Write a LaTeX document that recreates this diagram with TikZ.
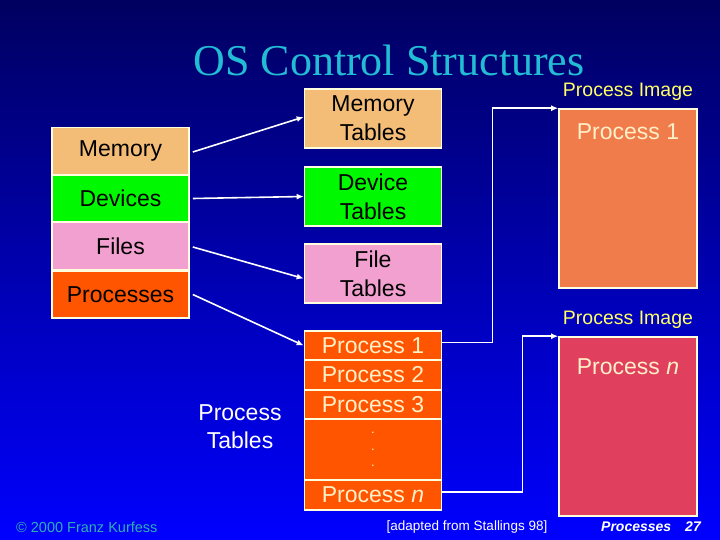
\documentclass[tikz,border=0pt]{standalone}
\usepackage{fontspec}
\setmainfont{Liberation Sans}
\newfontfamily\titlefont{Liberation Serif}
\usetikzlibrary{arrows.meta}
\definecolor{bgtop}{HTML}{000060}
\definecolor{bgbot}{HTML}{0000FF}
\definecolor{boxline}{HTML}{FFFFE0}
\definecolor{cmem}{HTML}{F3BD78}
\definecolor{cdev}{HTML}{00F800}
\definecolor{cfile}{HTML}{F2A0D0}
\definecolor{cproc}{HTML}{FF5500}
\definecolor{cimgone}{HTML}{F07C4C}
\definecolor{cimgn}{HTML}{E0405E}
\definecolor{ccream}{HTML}{FFF0C8}
\definecolor{cyellow}{HTML}{FFFF66}
\definecolor{ctitle}{HTML}{22BCD4}
\definecolor{ccopy}{HTML}{2FB0B0}
\tikzset{
  box/.style={draw=boxline, line width=1.6pt, minimum width=137pt, align=center, inner sep=0pt,
    font=\fontsize{23}{29}\selectfont},
  prow/.style={box, fill=cproc, text=ccream},
  img/.style={draw=boxline, line width=1.6pt, minimum width=138pt, minimum height=179pt, inner sep=0pt},
  conn/.style={white, line width=1.6pt, -{Latex[length=7pt,width=6pt]}},
  lbl/.style={font=\fontsize{23}{28}\selectfont, align=center, inner sep=0pt}
}
\begin{document}
\begin{tikzpicture}[x=1pt,y=-1pt]
\shade[top color=bgtop, bottom color=bgbot] (0,0) rectangle (720,540);
\useasboundingbox (0,0) rectangle (720,540);

\node[font=\titlefont\fontsize{44}{48}\selectfont, text=ctitle] (title) at (389,60) {OS Control Structures};

% left stack
\node[box, fill=cmem, minimum height=47pt] (mem) at (120.5,151) {Memory};
\node[box, fill=cdev, minimum height=47pt] (dev) at (120.5,198.5) {Devices};
\node[box, fill=cfile, minimum height=47pt] (files) at (120.5,246) {Files};
\node[box, fill=cproc, minimum height=47pt] (procs) at (120.5,294.5) {Processes};

% tables
\node[box, fill=cmem, minimum height=59pt] (memt) at (373,118.5) {Memory\\Tables};
\node[box, fill=cdev, minimum height=59pt] (devt) at (373,196.5) {Device\\Tables};
\node[box, fill=cfile, minimum height=59pt] (filet) at (373,273.5) {File\\Tables};

% process table
\node[prow, minimum height=29pt] (p1) at (373,345.5) {Process 1};
\node[prow, minimum height=30pt] (p2) at (373,375) {Process 2};
\node[prow, minimum height=29pt] (p3) at (373,404.5) {Process 3};
\node[prow, minimum height=61pt] (pdots) at (373,449.5) {};
\node[prow, minimum height=30pt] (pn) at (373,495) {Process \textit{n}};
\node[text=ccream, font=\fontsize{13}{13}\selectfont, inner sep=0pt] (d1) at (373,433) {.};
\node[text=ccream, font=\fontsize{13}{13}\selectfont, inner sep=0pt] (d2) at (373,450) {.};
\node[text=ccream, font=\fontsize{13}{13}\selectfont, inner sep=0pt] (d3) at (373,466) {.};
\node[lbl, text=white] (ptl) at (240,427) {Process\\Tables};

% process images
\node[img, fill=cimgone] (img1) at (628,198.5) {};
\node[img, fill=cimgn] (imgn) at (628,426.5) {};
\node[lbl, text=ccream] (t1) at (628,132) {Process 1};
\node[lbl, text=ccream] (tn) at (628,367) {Process \textit{n}};
\node[text=cyellow, font=\fontsize{19.5}{21}\selectfont, inner sep=0pt] (pi1) at (628,92) {Process Image};
\node[text=cyellow, font=\fontsize{19.5}{21}\selectfont, inner sep=0pt] (pin) at (628,320) {Process Image};

% connectors
\draw[conn] ([xshift=3pt,yshift=-1pt]mem.east) -- ([yshift=1.5pt]memt.west);
\draw[conn] ([xshift=3pt]dev.east) -- (devt.west);
\draw[conn] ([xshift=3pt,yshift=-1pt]files.east) -- ([yshift=-5pt]filet.west);
\draw[conn] ([xshift=3pt]procs.east) -- (p1.west);
\draw[conn] ([yshift=3pt]p1.east) -- ++(50,0) |- (img1.north west);
\draw[conn] ([yshift=3pt]pn.east) -- ++(80,0) |- (imgn.north west);

% footer
\node[text=ccopy, font=\fontsize{14.5}{15}\selectfont, anchor=west, inner sep=0pt] (copy) at (16,527) {\textcopyright{} 2000 Franz Kurfess};
\node[text=white, font=\fontsize{13.5}{14}\selectfont, inner sep=0pt] (adapt) at (467,527) {[adapted from Stallings 98]};
\node[text=white, font=\bfseries\itshape\fontsize{14}{15}\selectfont, anchor=east, inner sep=0pt] (pg) at (701,527) {Processes\quad 27};
\end{tikzpicture}
\end{document}
